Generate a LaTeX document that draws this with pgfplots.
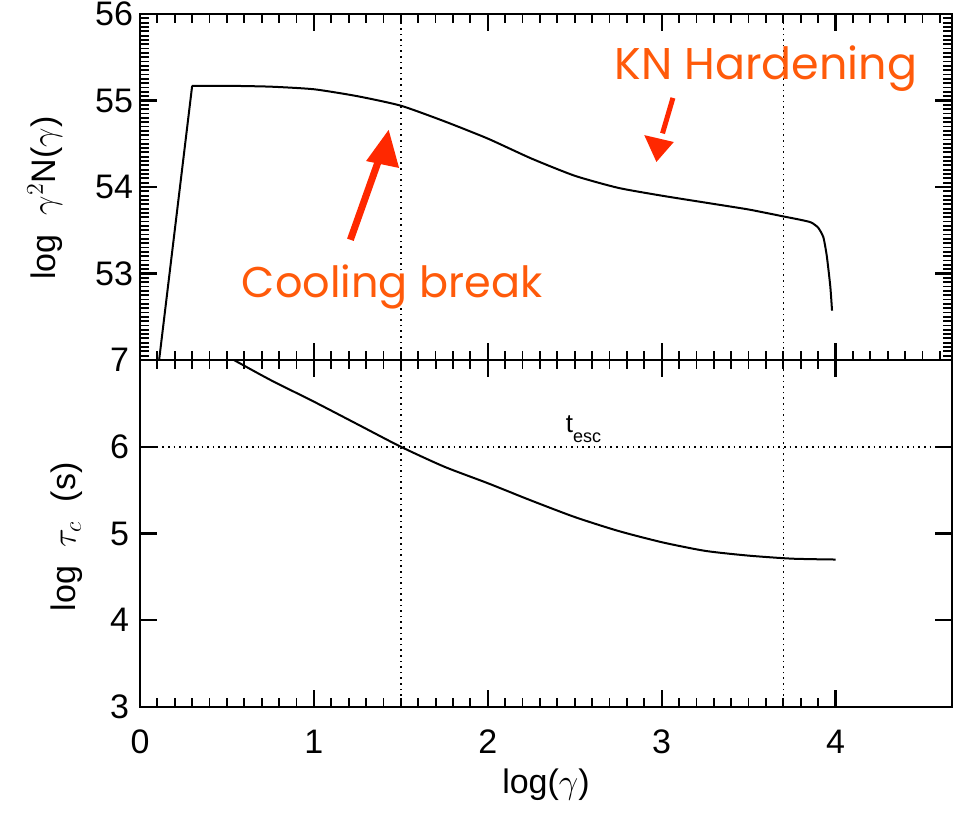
\documentclass[border=0pt]{standalone}
\usepackage{pgfplots}
\pgfplotsset{compat=1.18}
\usepackage{fontspec}
\setmainfont{Liberation Sans}
\newfontfamily\annfont{Poppins}
\definecolor{anntext}{RGB}{255,90,10}
\definecolor{annarrow}{RGB}{255,40,0}
\begin{document}
\begin{tikzpicture}
\path[use as bounding box] (0pt,0pt) rectangle (480.5pt,407.5pt);
\pgfplotsset{
  every axis/.append style={
    scale only axis, width=406pt,
    xmin=0, xmax=4.67,
    axis line style={line width=1pt},
    every tick/.style={line width=1pt, black},
    every minor tick/.style={line width=0.9pt, black},
    every major tick/.style={line width=1.1pt, black},
    major tick length=8.5pt, minor tick length=4.5pt,
    tick align=inside, xtick pos=both, ytick pos=both,
    /pgf/number format/assume math mode=true,
    ticklabel style={font=\fontsize{17}{20}\selectfont},
    label style={font=\fontsize{17}{20}\selectfont},
    clip=true,
  }
}
% top panel
\begin{axis}[
  at={(70pt,227.5pt)}, anchor=south west, height=173pt,
  ymin=52, ymax=56,
  xtick={0,1,2,3,4}, xticklabels={},
  ytick={52,53,54,55,56}, yticklabels={,53,54,55,56},
  minor xtick={0.1,0.2,0.3,0.4,0.5,0.6,0.7,0.8,0.9,1.1,1.2,1.3,1.4,1.5,1.6,1.7,1.8,1.9,2.1,2.2,2.3,2.4,2.5,2.6,2.7,2.8,2.9,3.1,3.2,3.3,3.4,3.5,3.6,3.7,3.8,3.9,4.1,4.2,4.3,4.4,4.5,4.6},
  minor y tick num=19,
  ylabel={log\ \ $\gamma^{2}$N($\gamma$)},
  ylabel style={at={(axis description cs:-0.117,0.468)}, anchor=center},
]
\addplot[black, dotted, line width=0.8pt] coordinates {(1.5,52) (1.5,56)};
\addplot[black, dotted, line width=0.8pt] coordinates {(3.7,52) (3.7,56)};
\addplot[black, line width=1pt] coordinates {(0.11,52.0) (0.30,55.17)};
\addplot[black, line width=1pt, smooth, tension=0.35] coordinates {
(0.30,55.17) (0.5,55.17) (0.75,55.16) (1.0,55.13)
(1.25,55.05) (1.5,54.94) (1.75,54.76)
(2.0,54.56) (2.25,54.33) (2.5,54.13)
(2.75,53.99) (3.0,53.90) (3.25,53.82)
(3.5,53.74) (3.7,53.66) (3.8,53.62) (3.86,53.59)
(3.9,53.53) (3.93,53.42) (3.95,53.2)
(3.97,52.85) (3.98,52.57)};
\draw[annarrow, line width=3.5pt] (axis cs:1.21,53.39) -- (axis cs:1.385,54.38);
\fill[annarrow] (axis cs:1.43,54.66) -- (axis cs:1.30,54.30) -- (axis cs:1.49,54.22) -- cycle;
\draw[annarrow, line width=2.5pt] (axis cs:3.065,55.03) -- (axis cs:3.005,54.62);
\fill[annarrow] (axis cs:2.97,54.29) -- (axis cs:2.90,54.60) -- (axis cs:3.07,54.52) -- cycle;
\node[anntext, font=\annfont\fontsize{21.5}{26}\selectfont] at (axis cs:1.45,52.84) {Cooling break};
\node[anntext, font=\annfont\fontsize{22.2}{26}\selectfont] at (axis cs:3.6,55.37) {KN Hardening};
\end{axis}
% bottom panel
\begin{axis}[
  at={(70pt,54pt)}, anchor=south west, height=173.5pt,
  ymin=3, ymax=7,
  xtick={0,1,2,3,4},
  ytick={3,4,5,6,7},
  minor x tick num=9,
  ylabel={log\ \ $\tau_{c}$\ \ (s)},
  ylabel style={at={(axis description cs:-0.09,0.49)}, anchor=center},
  xlabel={log($\gamma$)},
  xlabel style={at={(axis description cs:0.5,-0.225)}, anchor=center},
  xticklabel style={yshift=-8pt},
  yticklabel style={xshift=-2pt},
]
\addplot[black, dotted, line width=0.8pt] coordinates {(1.5,3) (1.5,7)};
\addplot[black, dotted, line width=0.8pt] coordinates {(3.7,3) (3.7,7)};
\addplot[black, dotted, line width=0.8pt] coordinates {(0,6) (4.67,6)};
\addplot[black, line width=1pt, smooth, tension=0.4] coordinates {
(0.54,7.0) (0.75,6.77) (1.0,6.52) (1.25,6.26) (1.5,6.0) (1.75,5.77)
(2.0,5.58) (2.25,5.38) (2.5,5.19) (2.75,5.03) (3.0,4.90) (3.25,4.80)
(3.5,4.745) (3.75,4.71) (4.0,4.70)};
\node[font=\fontsize{13}{15}\selectfont, inner sep=0pt] at (axis cs:2.55,6.2) {t\raisebox{-5pt}{\fontsize{9}{10}\selectfont esc}};
\end{axis}
\end{tikzpicture}
\end{document}
